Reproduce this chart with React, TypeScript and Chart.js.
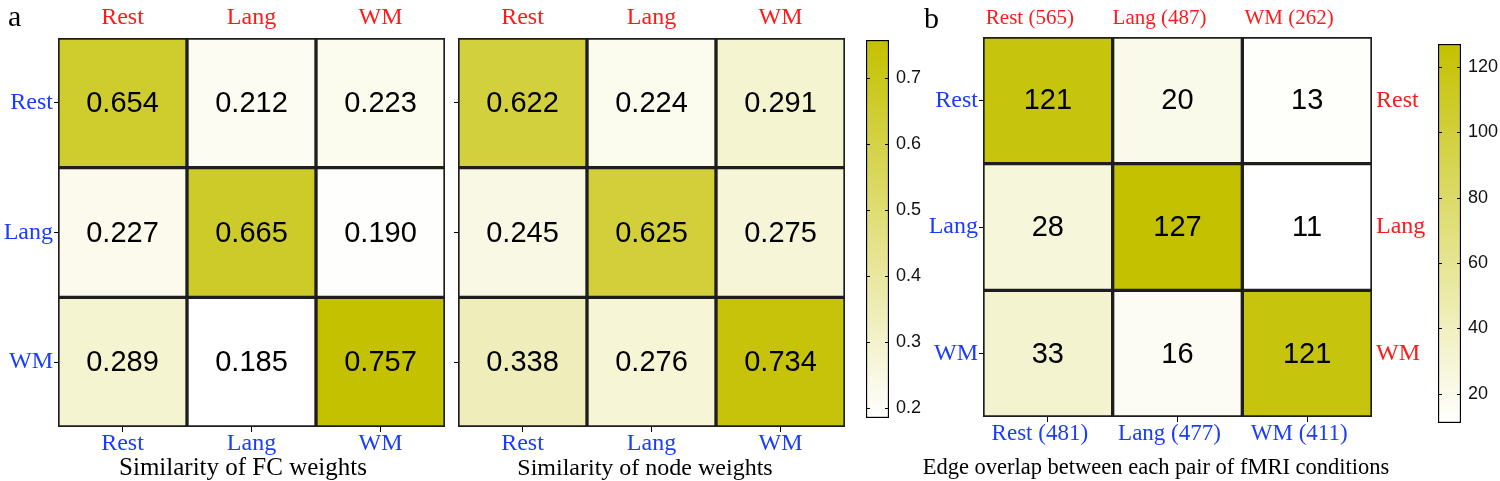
import React, { useEffect, useRef } from "react";
import { Chart, registerables } from "chart.js";

Chart.register(...registerables);

// ---------- data ----------
const conditions = ["Rest", "Lang", "WM"];
const fcWeights = [
  [0.654, 0.212, 0.223],
  [0.227, 0.665, 0.19],
  [0.289, 0.185, 0.757],
];
const nodeWeights = [
  [0.622, 0.224, 0.291],
  [0.245, 0.625, 0.275],
  [0.338, 0.276, 0.734],
];
const edgeOverlap = [
  [121, 20, 13],
  [28, 127, 11],
  [33, 16, 121],
];
const edgeTopLabels = ["Rest (565)", "Lang (487)", "WM (262)"];
const edgeBottomLabels = ["Rest (481)", "Lang (477)", "WM (411)"];
const similarityTicks = [0.2, 0.3, 0.4, 0.5, 0.6, 0.7];
const overlapTicks = [20, 40, 60, 80, 100, 120];
const panelTitles = [
  "Similarity of FC weights",
  "Similarity of node weights",
  "Edge overlap between each pair of fMRI conditions",
];

const SERIF = "'Liberation Serif', 'Times New Roman', serif";
const SANS = "'Liberation Sans', Arial, sans-serif";
const MAX_RGB = [196, 193, 0];
const BLUE = "#1a3cff";
const RED = "#ff1a1a";

function colorFor(v: number, vmin: number, vmax: number) {
  const t = Math.max(0, Math.min(1, (v - vmin) / (vmax - vmin)));
  const c = MAX_RGB.map((m) => Math.round(255 + (m - 255) * t));
  return `rgb(${c[0]},${c[1]},${c[2]})`;
}

const simMin = Math.min(...fcWeights.flat(), ...nodeWeights.flat());
const simMax = Math.max(...fcWeights.flat(), ...nodeWeights.flat());
const ovMin = Math.min(...edgeOverlap.flat());
const ovMax = Math.max(...edgeOverlap.flat());

type HeatOpts = {
  matrix: number[][];
  vmin: number;
  vmax: number;
  xBottom: string[];
  xTop: string[];
  yLeft: string[] | null;
  yRight: string[] | null;
  leftWidth: number;
  rightWidth: number;
  topHeight: number;
  bottomHeight: number;
  padRight: number;
  fmt: (v: number) => string;
  cellFont: number;
  topSize: number;
  bottomSize: number;
  sideSize: number;
  topOffset?: number;
  bottomOffset?: number;
};

function heatConfig(o: HeatOpts): any {
  const datasets = o.matrix.map((row, r) => ({
    data: row.map(() => [r, r + 1]),
    backgroundColor: row.map((v) => colorFor(v, o.vmin, o.vmax)),
    borderColor: "#1e1e1e",
    borderWidth: 2,
    borderSkipped: false,
    grouped: false,
    barPercentage: 1,
    categoryPercentage: 1,
    xAxisID: "x",
    yAxisID: "y",
  }));
  const cellText = {
    id: "cellText",
    afterDatasetsDraw(chart: any) {
      const ctx = chart.ctx;
      ctx.save();
      ctx.font = `${o.cellFont}px ${SANS}`;
      ctx.fillStyle = "#000";
      ctx.textAlign = "center";
      ctx.textBaseline = "middle";
      chart.data.datasets.forEach((_: any, r: number) => {
        chart.getDatasetMeta(r).data.forEach((bar: any, c: number) => {
          const p = bar.getProps(["x", "y", "base"], true);
          ctx.fillText(o.fmt(o.matrix[r][c]), p.x, (p.y + p.base) / 2 + 1);
        });
      });
      ctx.restore();
    },
  };
  const yTicks = (s: any) => {
    s.ticks = [0.5, 1.5, 2.5].map((v) => ({ value: v }));
  };
  const scales: any = {
    x: {
      type: "category",
      labels: o.xBottom,
      position: "bottom",
      offset: true,
      grid: { display: true, drawOnChartArea: false, offset: false, tickLength: 5, color: "#000" },
      border: { display: false },
      ticks: { color: BLUE, font: { family: SERIF, size: o.bottomSize, lineHeight: 1 }, padding: 0, autoSkip: false, maxRotation: 0, labelOffset: o.bottomOffset || 0 },
      afterFit: (s: any) => { s.height = o.bottomHeight; },
    },
    x2: {
      type: "category",
      labels: o.xTop,
      position: "top",
      offset: true,
      grid: { display: false },
      border: { display: false },
      ticks: { color: RED, font: { family: SERIF, size: o.topSize, lineHeight: 1 }, padding: 0, autoSkip: false, maxRotation: 0, labelOffset: o.topOffset || 0 },
      afterFit: (s: any) => { s.height = o.topHeight; },
    },
    y: {
      type: "linear",
      position: "left",
      min: 0,
      max: 3,
      reverse: true,
      afterBuildTicks: yTicks,
      grid: { display: true, drawOnChartArea: false, tickLength: 4, color: "#000" },
      border: { display: false },
      ticks: {
        color: BLUE,
        font: { family: SERIF, size: o.sideSize, lineHeight: 1 },
        padding: 1,
        autoSkip: false,
        callback: (_v: any, i: number) => (o.yLeft ? o.yLeft[i] : ""),
      },
      afterFit: (s: any) => { s.width = o.leftWidth; },
    },
  };
  if (o.yRight) {
    scales.y2 = {
      type: "linear",
      position: "right",
      min: 0,
      max: 3,
      reverse: true,
      afterBuildTicks: yTicks,
      grid: { display: false, drawTicks: false, tickLength: 0 },
      border: { display: false },
      ticks: {
        color: RED,
        font: { family: SERIF, size: o.sideSize, lineHeight: 1 },
        padding: 4,
        autoSkip: false,
        callback: (_v: any, i: number) => (o.yRight ? o.yRight[i] : ""),
      },
      afterFit: (s: any) => { s.width = o.rightWidth; },
    };
  }
  return {
    type: "bar",
    data: { labels: o.xBottom, datasets },
    options: {
      animation: false,
      responsive: false,
      maintainAspectRatio: false,
      layout: { padding: { left: 0, right: o.padRight, top: 0, bottom: 0 } },
      plugins: { legend: { display: false }, tooltip: { enabled: false } },
      scales,
    },
    plugins: [cellText],
  };
}

function colorbarConfig(vmin: number, vmax: number, ticks: number[], fmt: (v: number) => string, padLeft: number, padTop: number, padBottom: number, axisWidth: number): any {
  const innerTicks = {
    id: "innerTicks",
    afterDatasetsDraw(chart: any) {
      const { ctx, chartArea } = chart;
      const y = chart.scales.y;
      ctx.save();
      ctx.strokeStyle = "#000";
      ctx.lineWidth = 1.2;
      ticks.forEach((t) => {
        const py = Math.round(y.getPixelForValue(t)) + 0.5;
        ctx.beginPath();
        ctx.moveTo(chartArea.left, py);
        ctx.lineTo(chartArea.left + 4, py);
        ctx.moveTo(chartArea.right, py);
        ctx.lineTo(chartArea.right - 4, py);
        ctx.stroke();
      });
      ctx.restore();
    },
  };
  return {
    type: "bar",
    data: {
      labels: ["scale"],
      datasets: [
        {
          data: [[vmin, vmax]],
          backgroundColor: (c: any) => {
            const area = c.chart.chartArea;
            if (!area) return "#fff";
            const g = c.chart.ctx.createLinearGradient(0, area.bottom, 0, area.top);
            g.addColorStop(0, "#ffffff");
            g.addColorStop(1, `rgb(${MAX_RGB.join(",")})`);
            return g;
          },
          borderColor: "#000",
          borderWidth: 1.5,
          borderSkipped: false,
          barPercentage: 1,
          categoryPercentage: 1,
        },
      ],
    },
    options: {
      animation: false,
      responsive: false,
      maintainAspectRatio: false,
      layout: { padding: { left: padLeft, top: padTop, bottom: padBottom, right: 0 } },
      plugins: { legend: { display: false }, tooltip: { enabled: false } },
      scales: {
        x: { display: false },
        y: {
          type: "linear",
          position: "right",
          min: vmin,
          max: vmax,
          afterBuildTicks: (s: any) => {
            s.ticks = ticks.map((v) => ({ value: v }));
          },
          grid: { display: false, drawTicks: false },
          border: { display: false },
          ticks: { color: "#111", font: { family: SANS, size: 18 }, padding: 7, callback: (v: any) => fmt(Number(v)) },
          afterFit: (s: any) => { s.width = axisWidth; },
        },
      },
    },
    plugins: [innerTicks],
  };
}

function ChartCanvas({ config, left, top, width, height }: { config: () => any; left: number; top: number; width: number; height: number }) {
  const ref = useRef<HTMLCanvasElement | null>(null);
  useEffect(() => {
    if (!ref.current) return;
    const chart = new Chart(ref.current, config());
    return () => chart.destroy();
  }, []);
  return (
    <div style={{ position: "absolute", left, top, width, height }}>
      <canvas ref={ref} width={width} height={height} style={{ width, height, display: "block" }} />
    </div>
  );
}

function Title({ text, center, size }: { text: string; center: number; size: number }) {
  return (
    <div
      style={{
        position: "absolute",
        left: center - 350,
        width: 700,
        top: 453,
        textAlign: "center",
        fontFamily: SERIF,
        fontSize: size,
        lineHeight: "28px",
        color: "#000",
        whiteSpace: "nowrap",
      }}
    >
      {text}
    </div>
  );
}

export default function App() {
  const fmt3 = (v: number) => v.toFixed(3);
  const fmtInt = (v: number) => String(Math.round(v));
  return (
    <div style={{ position: "relative", width: 1500, height: 481, background: "#fff", overflow: "hidden" }}>
      <style>{`body{margin:0;background:#fff;}`}</style>
      <ChartCanvas
        left={0}
        top={0}
        width={452}
        height={481}
        config={() =>
          heatConfig({
            matrix: fcWeights, vmin: simMin, vmax: simMax,
            xBottom: conditions, xTop: conditions, yLeft: conditions, yRight: null,
            leftWidth: 58, rightWidth: 0, topHeight: 38, bottomHeight: 54, padRight: 7,
            fmt: fmt3, cellFont: 29, topSize: 24, bottomSize: 24, sideSize: 24,
          })
        }
      />
      <ChartCanvas
        left={450}
        top={0}
        width={402}
        height={481}
        config={() =>
          heatConfig({
            matrix: nodeWeights, vmin: simMin, vmax: simMax,
            xBottom: conditions, xTop: conditions, yLeft: null, yRight: null,
            leftWidth: 8, rightWidth: 0, topHeight: 38, bottomHeight: 54, padRight: 7,
            fmt: fmt3, cellFont: 29, topSize: 24, bottomSize: 24, sideSize: 24,
          })
        }
      />
      <ChartCanvas
        left={860}
        top={0}
        width={80}
        height={481}
        config={() => colorbarConfig(simMin, simMax, similarityTicks, (v) => v.toFixed(1), 6, 40, 63, 51)}
      />
      <ChartCanvas
        left={920}
        top={0}
        width={520}
        height={481}
        config={() =>
          heatConfig({
            matrix: edgeOverlap, vmin: ovMin, vmax: ovMax,
            xBottom: edgeBottomLabels, xTop: edgeTopLabels, yLeft: conditions, yRight: conditions,
            leftWidth: 63, rightWidth: 68, topHeight: 37, bottomHeight: 64, padRight: 0,
            fmt: fmtInt, cellFont: 29, topSize: 21, bottomSize: 23, sideSize: 24,
            topOffset: -18, bottomOffset: -8,
          })
        }
      />
      <ChartCanvas
        left={1430}
        top={0}
        width={70}
        height={481}
        config={() => colorbarConfig(ovMin, ovMax, overlapTicks, (v) => String(v), 8, 44, 58, 39)}
      />
      <Title text={panelTitles[0]} center={243} size={25} />
      <Title text={panelTitles[1]} center={645} size={24} />
      <Title text={panelTitles[2]} center={1156} size={22.5} />
      <div style={{ position: "absolute", left: 8, top: 0, fontFamily: SERIF, fontSize: 30, lineHeight: "32px", color: "#000" }}>a</div>
      <div style={{ position: "absolute", left: 924, top: 2, fontFamily: SERIF, fontSize: 30, lineHeight: "32px", color: "#000" }}>b</div>
    </div>
  );
}
